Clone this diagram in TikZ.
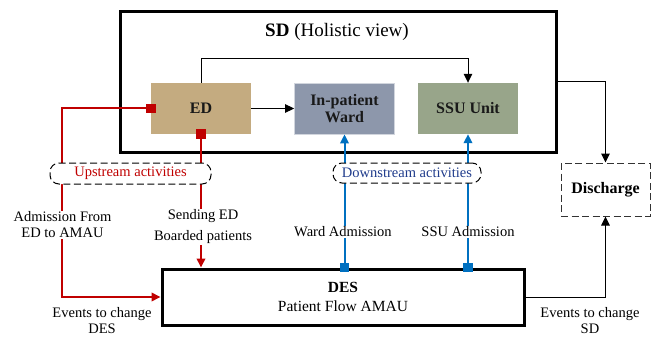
\documentclass[tikz,border=0pt]{standalone}
\usepackage{fontspec}
\setmainfont{Liberation Serif}
\usetikzlibrary{arrows.meta}
\definecolor{edc}{HTML}{C4AB80}
\definecolor{wardc}{HTML}{8D97AB}
\definecolor{ssuc}{HTML}{98A58A}
\definecolor{redc}{HTML}{C00000}
\definecolor{bluec}{HTML}{0070C0}
\definecolor{dblue}{HTML}{203C8C}
\begin{document}
\begin{tikzpicture}[x=1pt,y=-1pt,
 tip/.style={-{Triangle[length=9pt,width=8.5pt]}},
 unit/.style={minimum width=100pt, minimum height=51pt, inner sep=0pt, font=\fontsize{16}{17}\selectfont\bfseries, align=center, text=black!90},
 lbl/.style={fill=white, inner sep=1pt, align=center, font=\fontsize{14.5}{16}\selectfont},
 act/.style={draw, dashed, dash pattern=on 7pt off 3.5pt, rounded corners=9pt, fill=white, line width=1pt, font=\fontsize{14.5}{16}\selectfont, inner sep=0pt},
 sqr/.style={minimum size=9.5pt, inner sep=0pt},
 ]
\useasboundingbox (0,0) rectangle (654,337);
% main boxes
\node[draw, line width=3pt, minimum width=436pt, minimum height=140pt, inner sep=0pt] (sd) at (338,82) {};
\node[font=\fontsize{19}{20}\selectfont] (sdt) at (337,32) {\textbf{SD} (Holistic view)};
\node[unit, fill=edc] (ed) at (201,108.5) {ED};
\node[unit, fill=wardc, draw=white!60!wardc, line width=0.8pt] (ward) at (344.5,108.5) {In-patient\\Ward};
\node[unit, fill=ssuc] (ssu) at (468,108.5) {SSU Unit};
\node[draw=black!80, dashed, dash pattern=on 7pt off 3.5pt, line width=1pt, minimum width=89pt, minimum height=53pt, font=\fontsize{16}{17}\selectfont\bfseries] (dis) at (605.5,189.5) {Discharge};
\node[draw, line width=3pt, minimum width=362pt, minimum height=56pt, align=center, font=\fontsize{15.5}{18}\selectfont] (des) at (343,297) {\textbf{DES}\\[1pt]Patient Flow AMAU};
% black connectors
\draw[tip, line width=1.3pt] (ed.east) -- (ward.west);
\draw[tip, line width=1pt] (ed.north) -- ++(0,-24) -| (ssu.north);
\draw[tip, line width=1pt] (sd.east) -| (dis.north);
\draw[tip, line width=1pt] (des.east) -| (dis.south);
% red connectors
\draw[redc, line width=2pt, tip] (ed.west) -- ++(-89,0) |- (des.west);
\draw[redc, line width=2pt, tip] (ed.south) -- (ed.south |- des.north);
% blue connectors
\draw[bluec, line width=2pt, tip] (ward.south |- des.north) -- (ward.south);
\draw[bluec, line width=2pt, tip] (ssu.south |- des.north) -- (ssu.south);
% squares
\node[sqr, fill=redc] (s1) at (ed.west) {};
\node[sqr, fill=redc] (s2) at (ed.south) {};
\node[sqr, fill=bluec] (s3) at (ward.south |- des.north) {};
\node[sqr, fill=bluec] (s4) at (ssu.south |- des.north) {};
% activity boxes
\node[act, minimum width=161pt, minimum height=21pt, text=redc] (up) at (130.5,173.5) {Upstream activities};
\node[act, minimum width=148pt, minimum height=20pt, text=dblue] (down) at (407,173) {Downstream activities};
% labels
\node[lbl] (l1) at (62.5,225) {Admission From\\ED to AMAU};
\node[lbl] (l2) at (203,227) {Sending ED\\[5pt]Boarded patients};
\node[lbl] (l3) at (343,232) {Ward Admission};
\node[lbl] (l4) at (468,232) {SSU Admission};
\node[lbl, fill=none] (l5) at (102,321) {Events to change\\DES};
\node[lbl, fill=none] (l6) at (590,321) {Events to change\\SD};
\end{tikzpicture}
\end{document}
